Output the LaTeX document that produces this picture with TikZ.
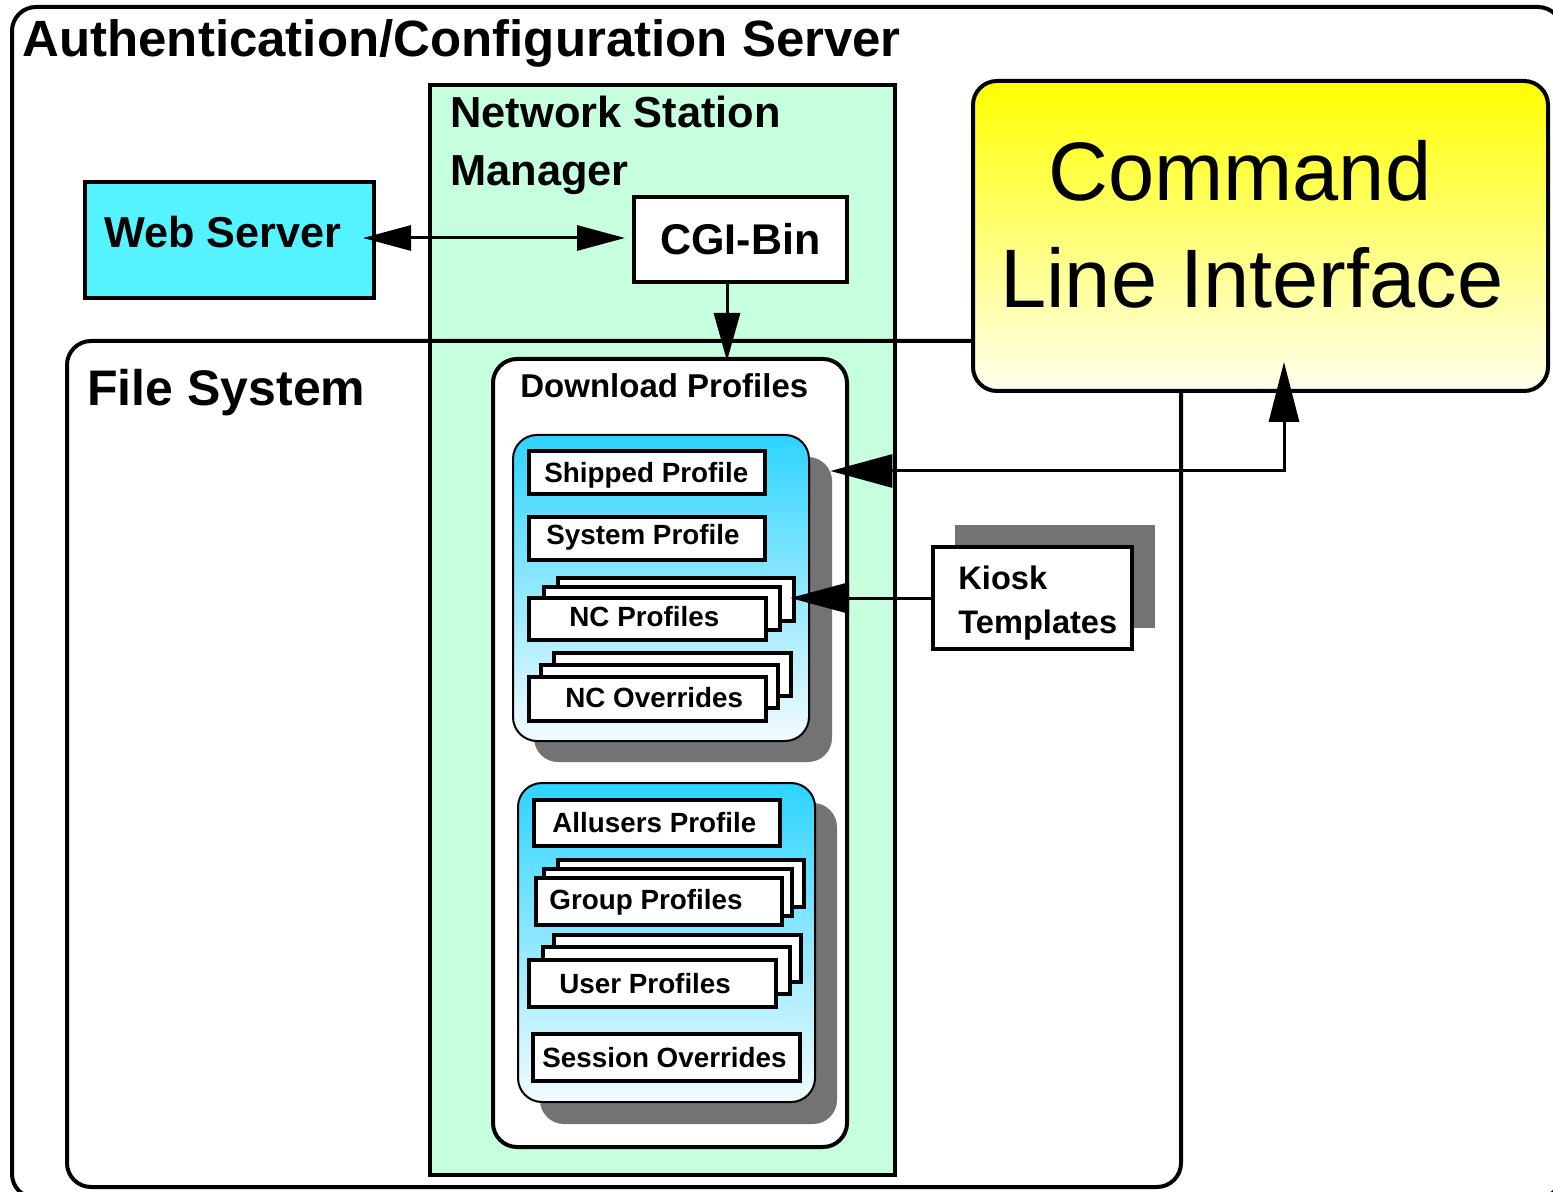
\documentclass[tikz,border=0pt]{standalone}
\usepackage{fontspec}
\setmainfont{Liberation Sans}
\usetikzlibrary{fit,arrows.meta,calc}
\definecolor{nsmgreen}{RGB}{198,255,222}
\definecolor{webcyan}{RGB}{85,242,255}
\definecolor{grpblue}{RGB}{45,212,255}
\definecolor{grpbot}{RGB}{242,251,255}
\definecolor{shadowgray}{RGB}{115,115,115}
\definecolor{cliyel}{RGB}{255,255,0}
\definecolor{clibot}{RGB}{255,255,238}
\newcommand\setfs[1]{\fontsize{#1}{#1}\selectfont}
\begin{document}
\begin{tikzpicture}[x=0.5pt,y=-0.5pt,
  frame/.style={draw, line width=2pt, inner sep=0pt},
  roundframe/.style={frame, rounded corners=12pt},
  pbox/.style={draw, fill=white, line width=2.2pt, inner sep=0pt},
  grpbox/.style={draw, line width=1pt, rounded corners=12pt, inner sep=0pt, top color=grpblue, bottom color=grpbot},
  shadowbox/.style={fill=shadowgray, rounded corners=12pt, inner sep=0pt},
  lbl/.style={anchor=base west, inner sep=0pt, font=\bfseries\setfs{#1}},
  plbl/.style={lbl=13.9},
  conn/.style={line width=1.5pt},
]
\useasboundingbox (0,0) rectangle (1553,1192);
\clip (0,0) rectangle (1553,1192);

% outer server box
\node[roundframe, fill=white, fit={(12,7) (1562,1198)}] (server) {};
\node[lbl=25.5] (title) at (22,57) {Authentication/Configuration Server};

% web server
\node[frame, fill=webcyan, fit={(85,182) (374,298)}] (web) {};
\node[lbl=21.6] (webt) at (104,248) {Web Server};

% network station manager
\node[frame, fill=nsmgreen, fit={(430,85) (895,1175)}] (nsm) {};
\node[lbl=21.7] (nsmt1) at (450,128) {Network Station};
\node[lbl=21.7] (nsmt2) at (450,186) {Manager};

% file system
\node[roundframe, fit={(67,341) (1181,1187)}] (fs) {};
\node[lbl=25] (fst) at (87,406) {File System};

% CGI-Bin
\node[frame, fill=white, fit={(634,197) (847,282)}] (cgi) {};
\node[lbl=21.5] (cgit) at (660,255) {CGI-Bin};

% Command line interface
\node[roundframe, top color=cliyel, bottom color=clibot, fit={(973,81) (1548,391)}] (cli) {};
\node[anchor=base west, inner sep=0pt, font=\setfs{41.5}] (clit1) at (1048,201) {Command};
\node[anchor=base west, inner sep=0pt, font=\setfs{41.5}] (clit2) at (1000,308) {Line Interface};

% download profiles
\node[roundframe, fill=white, fit={(493,359) (847,1147)}] (dp) {};
\node[lbl=16.5] (dpt) at (520,398) {Download Profiles};

% group 1
\node[shadowbox, fit={(534,457) (832,762)}] (g1s) {};
\node[grpbox, fit={(513,435) (809,741)}] (g1) {};
\node[pbox, fit={(529,451) (765,494)}] (ship) {};
\node[plbl] (shipt) at (544,482) {Shipped Profile};
\node[pbox, fit={(529,517) (765,560)}] (sys) {};
\node[plbl] (syst) at (546,545) {System Profile};
\node[pbox, fit={(558,578) (794,621)}] (ncpb) {};
\node[pbox, fit={(544,587) (780,630)}] (ncpm) {};
\node[pbox, fit={(529,598) (766,640)}] (ncpf) {};
\node[plbl] (ncpt) at (569,626) {NC Profiles};
\node[pbox, fit={(554,653) (791,696)}] (ncob) {};
\node[pbox, fit={(541,665) (778,708)}] (ncom) {};
\node[pbox, fit={(529,677) (766,721)}] (ncof) {};
\node[plbl] (ncot) at (565,707) {NC Overrides};

% group 2
\node[shadowbox, fit={(540,803) (837,1124)}] (g2s) {};
\node[grpbox, fit={(518,783) (815,1102)}] (g2) {};
\node[pbox, fit={(534,800) (780,846)}] (allu) {};
\node[plbl] (allut) at (552,832) {Allusers Profile};
\node[pbox, fit={(558,860) (804,907)}] (grpb) {};
\node[pbox, fit={(544,869) (792,916)}] (grpm) {};
\node[pbox, fit={(536,878) (782,925)}] (grpf) {};
\node[plbl] (grpt) at (549,909) {Group Profiles};
\node[pbox, fit={(554,935) (801,982)}] (usrb) {};
\node[pbox, fit={(543,947) (790,994)}] (usrm) {};
\node[pbox, fit={(529,960) (776,1007)}] (usrf) {};
\node[plbl] (usrt) at (559,993) {User Profiles};
\node[pbox, fit={(533,1034) (800,1081)}] (sess) {};
\node[plbl] (sesst) at (542,1067) {Session Overrides};

% kiosk templates
\node[fill=shadowgray, inner sep=0pt, fit={(955,525) (1155,628)}] (kios) {};
\node[frame, fill=white, fit={(933,547) (1132,649)}] (kiosk) {};
\node[lbl=16.3] (kioskt1) at (958,589) {Kiosk};
\node[lbl=16.3] (kioskt2) at (958,633) {Templates};

% connectors
\draw[conn, {Triangle[length=24pt,width=12.5pt]}-{Triangle[length=24pt,width=12.5pt]}]
  ([xshift=-6.5pt,yshift=1pt]web.east) -- ([xshift=-3.5pt,yshift=0.75pt]cgi.west);
\draw[conn, -{Triangle[length=24pt,width=13pt]}]
  ([xshift=-6.75pt]cgi.south) -- ([xshift=-6.75pt,yshift=-2pt]cgi.south |- dp.north);
\draw[conn, -{Triangle[length=29.5pt,width=15.5pt]}]
  (kiosk.west) -- ([xshift=-3pt]ncpb.east |- kiosk.west);
\coordinate (clitip) at (1284,362);
\coordinate (clibend) at (1284,471);
\draw[conn, {Triangle[length=30pt,width=15pt]}-{Triangle[length=31pt,width=16.5pt]}]
  (clitip) -- (clibend) -- ([xshift=-1pt]g1s.east |- clibend);
\end{tikzpicture}
\end{document}
